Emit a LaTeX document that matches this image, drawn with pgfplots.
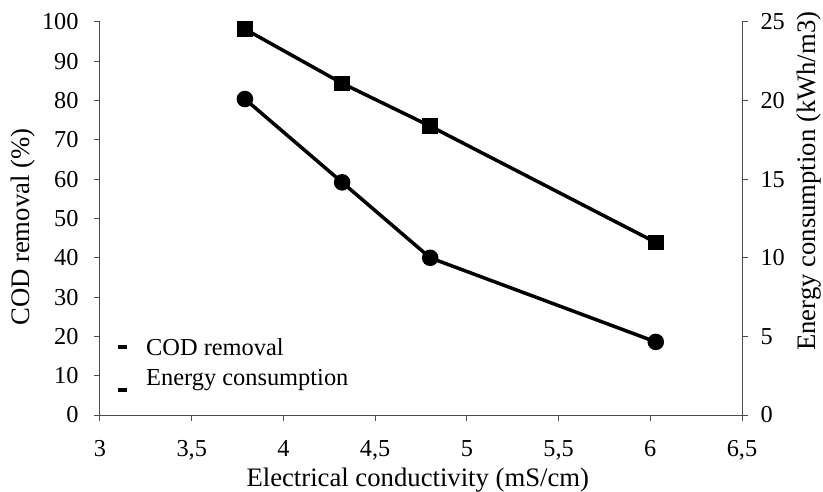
\documentclass[border=0pt]{standalone}
\usepackage{pgfplots}
\pgfplotsset{compat=1.18}
\usepackage{fontspec}
\setmainfont{Liberation Serif}
\begin{document}
\begin{tikzpicture}
\path[use as bounding box] (-100bp,-77bp) rectangle (723bp,415bp);
\pgfplotsset{
  every axis/.append style={
    scale only axis, width=642bp, height=393bp,
    xmin=3, xmax=6.5,
    /pgf/number format/assume math mode=true,
    /pgf/number format/use comma,
    tick align=outside, major tick length=6bp,
    axis line style={line width=1bp, black!70},
    every tick/.style={line width=1bp, black!70},
    tick label style={font=\fontsize{24.4}{28}\selectfont},
    label style={font=\fontsize{26.8}{31}\selectfont},
  }
}
\begin{axis}[
  axis y line*=left, axis x line*=bottom,
  ymin=0, ymax=100, ytick={0,10,...,100},
  xtick={3,3.5,4,4.5,5,5.5,6,6.5},
  xticklabel style={yshift=-16bp},
  yticklabel style={xshift=-12bp},
  xlabel={Electrical conductivity (mS/cm)},
  ylabel={COD removal (\%)},
  xlabel style={at={(axis description cs:0.495,-0.165)}, anchor=center},
  ylabel style={at={(axis description cs:-0.12,0.478)}, anchor=center},
  legend style={draw=none, fill=none, at={(axis description cs:0.028,0.2)}, anchor=north west,
    font=\fontsize{24.5}{28}\selectfont, row sep=8bp, inner sep=0bp},
  legend cell align=left,
]
\addplot[black, line width=3.5bp, mark=square*, mark size=6bp, mark options={solid},
  legend image code/.code={\fill[black,draw=none] (0bp,-1bp) rectangle (9bp,3bp); \path[draw=none] (0bp,-2bp) rectangle (26bp,2bp);}]
  coordinates {(3.79,98.2) (4.32,84.4) (4.80,73.5) (6.03,43.9)};
\addlegendentry{COD removal}
\addlegendimage{legend image code/.code={\fill[black,draw=none,overlay] (0bp,-14bp) rectangle (9bp,-10bp); \path[draw=none] (0bp,-2bp) rectangle (26bp,2bp);}}
\addlegendentry{Energy consumption}
\end{axis}
\begin{axis}[
  axis y line*=right, axis x line=none,
  ymin=0, ymax=25, ytick={0,5,...,25},
  yticklabel style={xshift=9bp},
  ylabel={Energy consumption (kWh/m3)},
  ylabel style={at={(axis description cs:1.104,0.595)}, anchor=center},
]
\addplot[black, line width=3.5bp, mark=*, mark size=6.5bp, mark options={solid}]
  coordinates {(3.79,20.1) (4.32,14.8) (4.80,10.0) (6.03,4.65)};
\end{axis}
\end{tikzpicture}
\end{document}
